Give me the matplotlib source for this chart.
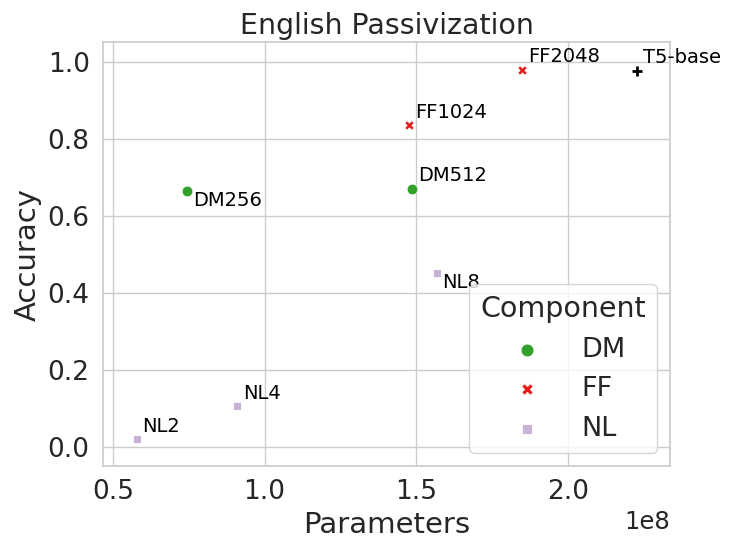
import numpy as np
import matplotlib
matplotlib.use("Agg")
import matplotlib.pyplot as plt
import seaborn as sns
import pandas as pd

# values
models = ["DM256", "DM512", "FF1024", "FF2048", "NL2", "NL4", "NL8"]
components = ["DM", "DM", "FF", "FF", "NL", "NL", "NL"]
params = [0.745e8, 1.487e8, 1.475e8, 1.850e8, 0.578e8, 0.908e8, 1.567e8]
accuracy = [0.665, 0.670, 0.836, 0.979, 0.021, 0.106, 0.452]

base_name = "T5-base"
base_params = 2.228e8
base_acc = 0.977

df = pd.DataFrame({"Model": models, "Component": components,
                   "Parameters": params, "Accuracy": accuracy})

sns.set_theme(style="whitegrid")
plt.rcParams["font.family"] = ["DejaVu Sans"]

fig = plt.figure(figsize=(7.3, 5.53), dpi=100)
ax = fig.add_axes([0.141, 0.157, 0.777, 0.767])

palette = {"DM": "#33a02c", "FF": "#e31a1c", "NL": "#cab2d6"}
markers = {"DM": "o", "FF": "X", "NL": "s"}
sizes = {"DM": 60, "FF": 48, "NL": 30}

for comp in ["DM", "FF", "NL"]:
    sub = df[df["Component"] == comp]
    ax.scatter(sub["Parameters"], sub["Accuracy"], c=palette[comp],
               marker=markers[comp], s=sizes[comp], linewidths=0.6,
               edgecolors="white", label=comp, zorder=3)

ax.scatter([base_params], [base_acc], marker="+", c="black", s=60,
           linewidths=2, zorder=3)

below = {"DM256", "NL8"}
for m, x, y in zip(models, params, accuracy):
    dy = -7 if m in below else 9.5
    ax.annotate(m, (x, y), xytext=(4.3, dy), textcoords="offset points",
                fontsize=14, va="center", ha="left", color="black")
ax.annotate(base_name, (base_params, base_acc), xytext=(4.3, 10),
            textcoords="offset points", fontsize=14, va="center",
            ha="left", color="black")

ax.set_xlim(0.467e8, 2.337e8)
ax.set_ylim(-0.049, 1.052)
ax.set_xticks([0.5e8, 1.0e8, 1.5e8, 2.0e8])
ax.set_yticks([0.0, 0.2, 0.4, 0.6, 0.8, 1.0])
ax.tick_params(labelsize=19, colors="#262626")
ax.xaxis.get_offset_text().set_fontsize(17.5)
ax.set_xlabel("Parameters", fontsize=21, color="#262626")
ax.set_ylabel("Accuracy", fontsize=21, color="#262626")
ax.set_title("English Passivization", fontsize=20.5, color="#262626")

leg = ax.legend(title="Component", loc="lower right", fontsize=19.5,
                title_fontsize=20.5, markerscale=1.2, borderaxespad=0.5,
                handletextpad=1.0, labelspacing=0.5)

fig.savefig("out.png", dpi=100)
